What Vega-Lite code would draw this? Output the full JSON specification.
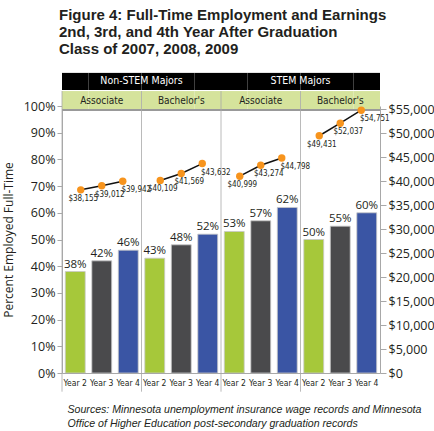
{
  "$schema": "https://vega.github.io/schema/vega-lite/v6.json",
  "autosize": "none",
  "width": 318,
  "height": 267,
  "padding": {"left": 62, "top": 106, "right": 54, "bottom": 58},
  "background": "white",
  "title": {
    "text": ["Figure 4: Full-Time Employment and Earnings", "2nd, 3rd, and 4th Year After Graduation", "Class of 2007, 2008, 2009"],
    "anchor": "start",
    "frame": "group",
    "font": "Liberation Sans",
    "fontSize": 15,
    "fontWeight": "bold",
    "color": "#231f20",
    "lineHeight": 17,
    "offset": 16,
    "dx": -3
  },
  "config": {
    "view": {"stroke": null},
    "axis": {"grid": false}
  },
  "datasets": {
    "main": [
      {"key": "NS-A Year 2", "major": "Non-STEM Majors", "degree": "Associate", "group": "NS-A", "year": "Year 2", "pct": 0.38, "earn": 38155},
      {"key": "NS-A Year 3", "major": "Non-STEM Majors", "degree": "Associate", "group": "NS-A", "year": "Year 3", "pct": 0.42, "earn": 39012},
      {"key": "NS-A Year 4", "major": "Non-STEM Majors", "degree": "Associate", "group": "NS-A", "year": "Year 4", "pct": 0.46, "earn": 39942},
      {"key": "NS-B Year 2", "major": "Non-STEM Majors", "degree": "Bachelor's", "group": "NS-B", "year": "Year 2", "pct": 0.43, "earn": 40109},
      {"key": "NS-B Year 3", "major": "Non-STEM Majors", "degree": "Bachelor's", "group": "NS-B", "year": "Year 3", "pct": 0.48, "earn": 41569},
      {"key": "NS-B Year 4", "major": "Non-STEM Majors", "degree": "Bachelor's", "group": "NS-B", "year": "Year 4", "pct": 0.52, "earn": 43632},
      {"key": "S-A Year 2", "major": "STEM Majors", "degree": "Associate", "group": "S-A", "year": "Year 2", "pct": 0.53, "earn": 40999},
      {"key": "S-A Year 3", "major": "STEM Majors", "degree": "Associate", "group": "S-A", "year": "Year 3", "pct": 0.57, "earn": 43274},
      {"key": "S-A Year 4", "major": "STEM Majors", "degree": "Associate", "group": "S-A", "year": "Year 4", "pct": 0.62, "earn": 44798},
      {"key": "S-B Year 2", "major": "STEM Majors", "degree": "Bachelor's", "group": "S-B", "year": "Year 2", "pct": 0.50, "earn": 49431},
      {"key": "S-B Year 3", "major": "STEM Majors", "degree": "Bachelor's", "group": "S-B", "year": "Year 3", "pct": 0.55, "earn": 52037},
      {"key": "S-B Year 4", "major": "STEM Majors", "degree": "Bachelor's", "group": "S-B", "year": "Year 4", "pct": 0.60, "earn": 54751}
    ]
  },
  "layer": [
    {
      "data": {"name": "main"},
      "layer": [
        {
          "mark": {"type": "rect", "fill": "#000000"},
          "encoding": {
            "x": {"field": "key", "type": "nominal", "scale": {"type": "band", "paddingInner": 0, "paddingOuter": 0},
              "axis": {"labelExpr": "slice(datum.label, -6)", "labelAngle": 0, "labelFont": "DejaVu Sans Condensed, sans-serif", "labelFontSize": 8.5, "labelColor": "#231f20", "labelPadding": 5, "ticks": false, "domain": true, "domainColor": "#a8a8a8", "title": ["Sources: Minnesota unemployment insurance wage records and Minnesota", "Office of Higher Education post-secondary graduation records"], "titleFont": "Liberation Sans", "titleFontSize": 10.6, "titleFontStyle": "italic", "titleFontWeight": "normal", "titleColor": "#231f20", "titleAnchor": "start", "titleAlign": "left", "titleBaseline": "top", "titleX": 5, "titleY": 31, "titleLineHeight": 14}},
            "y": {"datum": 1.06, "type": "quantitative", "scale": {"domain": [0, 1], "nice": false},
              "axis": {"orient": "left", "values": [0, 0.1, 0.2, 0.3, 0.4, 0.5, 0.6, 0.7, 0.8, 0.9, 1], "format": ".0%", "labelOverlap": false, "title": "Percent Employed Full-Time", "titleFont": "Open Sans", "titleFontSize": 12, "titleFontWeight": "normal", "titleColor": "#231f20", "titlePadding": 8, "labelFont": "Open Sans", "labelFontSize": 12.5, "labelColor": "#231f20", "labelPadding": 2, "domainColor": "#a8a8a8", "tickColor": "#a8a8a8", "tickSize": 5}},
            "y2": {"datum": 1.124}
          }
        },
        {
          "mark": {"type": "rect", "fill": "#d5e39c"},
          "encoding": {
            "x": {"field": "key", "type": "nominal", "scale": {"type": "band", "paddingInner": 0, "paddingOuter": 0},
              "axis": {"labelExpr": "slice(datum.label, -6)", "labelAngle": 0, "labelFont": "DejaVu Sans Condensed, sans-serif", "labelFontSize": 8.5, "labelColor": "#231f20", "labelPadding": 5, "ticks": false, "domain": true, "domainColor": "#a8a8a8", "title": ["Sources: Minnesota unemployment insurance wage records and Minnesota", "Office of Higher Education post-secondary graduation records"], "titleFont": "Liberation Sans", "titleFontSize": 10.6, "titleFontStyle": "italic", "titleFontWeight": "normal", "titleColor": "#231f20", "titleAnchor": "start", "titleAlign": "left", "titleBaseline": "top", "titleX": 5, "titleY": 31, "titleLineHeight": 14}},
            "y": {"datum": 0.985, "type": "quantitative", "scale": {"domain": [0, 1], "nice": false},
              "axis": {"orient": "left", "values": [0, 0.1, 0.2, 0.3, 0.4, 0.5, 0.6, 0.7, 0.8, 0.9, 1], "format": ".0%", "labelOverlap": false, "title": "Percent Employed Full-Time", "titleFont": "Open Sans", "titleFontSize": 12, "titleFontWeight": "normal", "titleColor": "#231f20", "titlePadding": 8, "labelFont": "Open Sans", "labelFontSize": 12.5, "labelColor": "#231f20", "labelPadding": 2, "domainColor": "#a8a8a8", "tickColor": "#a8a8a8", "tickSize": 5}},
            "y2": {"datum": 1.056}
          }
        },
        {
          "mark": {"type": "rule", "color": "#9a9a9a", "strokeWidth": 0.8},
          "encoding": {
            "y": {"datum": 0.985, "type": "quantitative", "scale": {"domain": [0, 1], "nice": false},
              "axis": {"orient": "left", "values": [0, 0.1, 0.2, 0.3, 0.4, 0.5, 0.6, 0.7, 0.8, 0.9, 1], "format": ".0%", "labelOverlap": false, "title": "Percent Employed Full-Time", "titleFont": "Open Sans", "titleFontSize": 12, "titleFontWeight": "normal", "titleColor": "#231f20", "titlePadding": 8, "labelFont": "Open Sans", "labelFontSize": 12.5, "labelColor": "#231f20", "labelPadding": 2, "domainColor": "#a8a8a8", "tickColor": "#a8a8a8", "tickSize": 5}}
          }
        },
        {
          "transform": [{"filter": "datum.year == 'Year 2'"}],
          "mark": {"type": "rule", "color": "#a8a8a8", "strokeWidth": 0.8},
          "encoding": {
            "x": {"field": "key", "type": "nominal", "bandPosition": 0, "scale": {"type": "band", "paddingInner": 0, "paddingOuter": 0},
              "axis": {"labelExpr": "slice(datum.label, -6)", "labelAngle": 0, "labelFont": "DejaVu Sans Condensed, sans-serif", "labelFontSize": 8.5, "labelColor": "#231f20", "labelPadding": 5, "ticks": false, "domain": true, "domainColor": "#a8a8a8", "title": ["Sources: Minnesota unemployment insurance wage records and Minnesota", "Office of Higher Education post-secondary graduation records"], "titleFont": "Liberation Sans", "titleFontSize": 10.6, "titleFontStyle": "italic", "titleFontWeight": "normal", "titleColor": "#231f20", "titleAnchor": "start", "titleAlign": "left", "titleBaseline": "top", "titleX": 5, "titleY": 31, "titleLineHeight": 14}},
            "y": {"datum": -0.07, "type": "quantitative", "scale": {"domain": [0, 1], "nice": false},
              "axis": {"orient": "left", "values": [0, 0.1, 0.2, 0.3, 0.4, 0.5, 0.6, 0.7, 0.8, 0.9, 1], "format": ".0%", "labelOverlap": false, "title": "Percent Employed Full-Time", "titleFont": "Open Sans", "titleFontSize": 12, "titleFontWeight": "normal", "titleColor": "#231f20", "titlePadding": 8, "labelFont": "Open Sans", "labelFontSize": 12.5, "labelColor": "#231f20", "labelPadding": 2, "domainColor": "#a8a8a8", "tickColor": "#a8a8a8", "tickSize": 5}},
            "y2": {"datum": 1.056}
          }
        },
        {
          "transform": [{"filter": "datum.year == 'Year 3'"}],
          "mark": {"type": "text", "font": "DejaVu Sans Condensed, sans-serif", "fontSize": 10, "color": "#231f20", "baseline": "middle"},
          "encoding": {
            "x": {"field": "key", "type": "nominal", "scale": {"type": "band", "paddingInner": 0, "paddingOuter": 0},
              "axis": {"labelExpr": "slice(datum.label, -6)", "labelAngle": 0, "labelFont": "DejaVu Sans Condensed, sans-serif", "labelFontSize": 8.5, "labelColor": "#231f20", "labelPadding": 5, "ticks": false, "domain": true, "domainColor": "#a8a8a8", "title": ["Sources: Minnesota unemployment insurance wage records and Minnesota", "Office of Higher Education post-secondary graduation records"], "titleFont": "Liberation Sans", "titleFontSize": 10.6, "titleFontStyle": "italic", "titleFontWeight": "normal", "titleColor": "#231f20", "titleAnchor": "start", "titleAlign": "left", "titleBaseline": "top", "titleX": 5, "titleY": 31, "titleLineHeight": 14}},
            "y": {"datum": 1.0205, "type": "quantitative", "scale": {"domain": [0, 1], "nice": false},
              "axis": {"orient": "left", "values": [0, 0.1, 0.2, 0.3, 0.4, 0.5, 0.6, 0.7, 0.8, 0.9, 1], "format": ".0%", "labelOverlap": false, "title": "Percent Employed Full-Time", "titleFont": "Open Sans", "titleFontSize": 12, "titleFontWeight": "normal", "titleColor": "#231f20", "titlePadding": 8, "labelFont": "Open Sans", "labelFontSize": 12.5, "labelColor": "#231f20", "labelPadding": 2, "domainColor": "#a8a8a8", "tickColor": "#a8a8a8", "tickSize": 5}},
            "text": {"field": "degree"}
          }
        },
        {
          "transform": [{"filter": "datum.year == 'Year 4' && datum.degree == 'Associate'"}],
          "mark": {"type": "text", "font": "DejaVu Sans Condensed, sans-serif", "fontSize": 10.5, "color": "#ffffff", "baseline": "middle"},
          "encoding": {
            "x": {"field": "key", "type": "nominal", "bandPosition": 1, "scale": {"type": "band", "paddingInner": 0, "paddingOuter": 0},
              "axis": {"labelExpr": "slice(datum.label, -6)", "labelAngle": 0, "labelFont": "DejaVu Sans Condensed, sans-serif", "labelFontSize": 8.5, "labelColor": "#231f20", "labelPadding": 5, "ticks": false, "domain": true, "domainColor": "#a8a8a8", "title": ["Sources: Minnesota unemployment insurance wage records and Minnesota", "Office of Higher Education post-secondary graduation records"], "titleFont": "Liberation Sans", "titleFontSize": 10.6, "titleFontStyle": "italic", "titleFontWeight": "normal", "titleColor": "#231f20", "titleAnchor": "start", "titleAlign": "left", "titleBaseline": "top", "titleX": 5, "titleY": 31, "titleLineHeight": 14}},
            "y": {"datum": 1.092, "type": "quantitative", "scale": {"domain": [0, 1], "nice": false},
              "axis": {"orient": "left", "values": [0, 0.1, 0.2, 0.3, 0.4, 0.5, 0.6, 0.7, 0.8, 0.9, 1], "format": ".0%", "labelOverlap": false, "title": "Percent Employed Full-Time", "titleFont": "Open Sans", "titleFontSize": 12, "titleFontWeight": "normal", "titleColor": "#231f20", "titlePadding": 8, "labelFont": "Open Sans", "labelFontSize": 12.5, "labelColor": "#231f20", "labelPadding": 2, "domainColor": "#a8a8a8", "tickColor": "#a8a8a8", "tickSize": 5}},
            "text": {"field": "major"}
          }
        },
        {
          "mark": {"type": "bar", "stroke": "#c8c8c8", "strokeWidth": 0.8, "width": {"band": 0.75}},
          "encoding": {
            "x": {"field": "key", "type": "nominal", "scale": {"type": "band", "paddingInner": 0, "paddingOuter": 0},
              "axis": {"labelExpr": "slice(datum.label, -6)", "labelAngle": 0, "labelFont": "DejaVu Sans Condensed, sans-serif", "labelFontSize": 8.5, "labelColor": "#231f20", "labelPadding": 5, "ticks": false, "domain": true, "domainColor": "#a8a8a8", "title": ["Sources: Minnesota unemployment insurance wage records and Minnesota", "Office of Higher Education post-secondary graduation records"], "titleFont": "Liberation Sans", "titleFontSize": 10.6, "titleFontStyle": "italic", "titleFontWeight": "normal", "titleColor": "#231f20", "titleAnchor": "start", "titleAlign": "left", "titleBaseline": "top", "titleX": 5, "titleY": 31, "titleLineHeight": 14}},
            "y": {"field": "pct", "type": "quantitative", "scale": {"domain": [0, 1], "nice": false},
              "axis": {"orient": "left", "values": [0, 0.1, 0.2, 0.3, 0.4, 0.5, 0.6, 0.7, 0.8, 0.9, 1], "format": ".0%", "labelOverlap": false, "title": "Percent Employed Full-Time", "titleFont": "Open Sans", "titleFontSize": 12, "titleFontWeight": "normal", "titleColor": "#231f20", "titlePadding": 8, "labelFont": "Open Sans", "labelFontSize": 12.5, "labelColor": "#231f20", "labelPadding": 2, "domainColor": "#a8a8a8", "tickColor": "#a8a8a8", "tickSize": 5}},
            "color": {"field": "year", "type": "nominal", "scale": {"domain": ["Year 2", "Year 3", "Year 4"], "range": ["#a6c83a", "#4a4a4c", "#3a55a4"]}, "legend": null}
          }
        },
        {
          "mark": {"type": "text", "font": "Open Sans", "fontSize": 11.5, "color": "#231f20", "baseline": "bottom", "dy": -2},
          "encoding": {
            "x": {"field": "key", "type": "nominal", "scale": {"type": "band", "paddingInner": 0, "paddingOuter": 0},
              "axis": {"labelExpr": "slice(datum.label, -6)", "labelAngle": 0, "labelFont": "DejaVu Sans Condensed, sans-serif", "labelFontSize": 8.5, "labelColor": "#231f20", "labelPadding": 5, "ticks": false, "domain": true, "domainColor": "#a8a8a8", "title": ["Sources: Minnesota unemployment insurance wage records and Minnesota", "Office of Higher Education post-secondary graduation records"], "titleFont": "Liberation Sans", "titleFontSize": 10.6, "titleFontStyle": "italic", "titleFontWeight": "normal", "titleColor": "#231f20", "titleAnchor": "start", "titleAlign": "left", "titleBaseline": "top", "titleX": 5, "titleY": 31, "titleLineHeight": 14}},
            "y": {"field": "pct", "type": "quantitative", "scale": {"domain": [0, 1], "nice": false},
              "axis": {"orient": "left", "values": [0, 0.1, 0.2, 0.3, 0.4, 0.5, 0.6, 0.7, 0.8, 0.9, 1], "format": ".0%", "labelOverlap": false, "title": "Percent Employed Full-Time", "titleFont": "Open Sans", "titleFontSize": 12, "titleFontWeight": "normal", "titleColor": "#231f20", "titlePadding": 8, "labelFont": "Open Sans", "labelFontSize": 12.5, "labelColor": "#231f20", "labelPadding": 2, "domainColor": "#a8a8a8", "tickColor": "#a8a8a8", "tickSize": 5}},
            "text": {"field": "pct", "type": "quantitative", "format": ".0%"}
          }
        }
      ]
    },
    {
      "data": {"name": "main"},
      "encoding": {
        "x": {"field": "group", "type": "nominal", "axis": null, "scale": {"type": "band", "paddingInner": 0, "paddingOuter": 0}},
        "xOffset": {"field": "year", "type": "nominal", "scale": {"type": "band", "paddingInner": 0, "paddingOuter": 0.393}},
        "y": {
          "field": "earn", "type": "quantitative",
          "scale": {"domain": [0, 55625], "nice": false},
          "axis": {
            "orient": "right", "values": [0, 5000, 10000, 15000, 20000, 25000, 30000, 35000, 40000, 45000, 50000, 55000], "format": "$,d",
            "labelOverlap": false,
            "title": null, "labelFont": "Open Sans", "labelFontSize": 12.5, "labelColor": "#231f20", "labelPadding": 2,
            "domainColor": "#a8a8a8", "tickColor": "#a8a8a8", "tickSize": 6
          }
        }
      },
      "layer": [
        {
          "mark": {"type": "line", "color": "#111111", "strokeWidth": 1.5},
          "encoding": {"detail": {"field": "group"}}
        },
        {
          "mark": {"type": "point", "filled": true, "opacity": 1, "color": "#f7941d", "size": 55}
        }
      ]
    },
    {
      "data": {"name": "main"},
      "mark": {"type": "text", "font": "DejaVu Sans Condensed, sans-serif", "fontSize": 8, "color": "#231f20", "baseline": "middle", "align": "center", "dx": 8, "dy": 9},
      "encoding": {
        "x": {"field": "key", "type": "nominal", "axis": null, "scale": {"type": "band", "paddingInner": 0, "paddingOuter": 0}},
        "y": {"field": "earn", "type": "quantitative", "axis": null, "scale": {"domain": [0, 55625], "nice": false}},
        "text": {"field": "earn", "type": "quantitative", "format": "$,d"}
      }
    }
  ],
  "resolve": {"scale": {"x": "independent", "y": "independent"}}
}
